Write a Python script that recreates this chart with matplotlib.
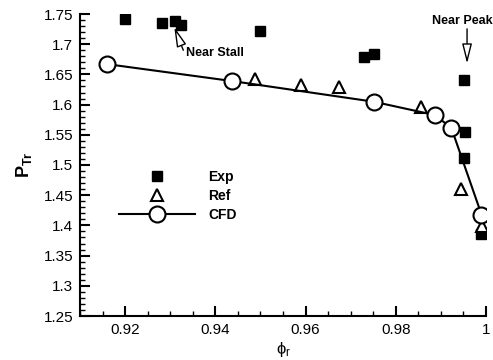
import matplotlib
matplotlib.use('Agg')
import matplotlib.pyplot as plt
from matplotlib.ticker import MultipleLocator

plt.rcParams['font.family'] = ['Liberation Sans', 'DejaVu Sans']
plt.rcParams['mathtext.fontset'] = 'custom'
plt.rcParams['mathtext.rm'] = 'Liberation Sans'
plt.rcParams['mathtext.it'] = 'Liberation Sans'
plt.rcParams['mathtext.bf'] = 'Liberation Sans:bold'

# data
exp_phi = [0.9200, 0.9282, 0.9310, 0.9324, 0.9500, 0.9729, 0.9751, 0.9951, 0.9954, 0.9951, 0.9990]
exp_ptr = [1.7412, 1.7346, 1.7390, 1.7318, 1.7224, 1.6793, 1.6838, 1.6407, 1.5541, 1.5110, 1.3860]

ref_phi = [0.9487, 0.9589, 0.9675, 0.9856, 0.9944, 0.9991]
ref_ptr = [1.6420, 1.6325, 1.6286, 1.5955, 1.4603, 1.3990]

cfd_phi = [0.9160, 0.9437, 0.9751, 0.9886, 0.9923, 0.9990]
cfd_ptr = [1.6670, 1.6390, 1.6048, 1.5828, 1.5618, 1.4180]

fig = plt.figure(figsize=(4.93, 3.6), dpi=100)
ax = fig.add_axes([80/493, 44/360, 406/493, 302/360])

ax.plot(exp_phi, exp_ptr, ls='none', marker='s', ms=7.2, mfc='black', mec='black', label='Exp', zorder=3)
ax.plot(ref_phi, ref_ptr, ls='none', marker='^', ms=9, mfc='white', mec='black', mew=1.5, label='Ref', zorder=4)
ax.plot(cfd_phi, cfd_ptr, c='black', lw=1.5, marker='o', ms=11.5, mfc='white', mec='black', mew=1.5, label='CFD', zorder=5)

ax.set_xlim(0.91, 1.0)
ax.set_ylim(1.25, 1.75)
ax.xaxis.set_minor_locator(MultipleLocator(0.005))
ax.yaxis.set_minor_locator(MultipleLocator(0.01))
ax.set_xticks([0.92, 0.94, 0.96, 0.98, 1.0])
ax.set_xticklabels(['0.92', '0.94', '0.96', '0.98', '1'])
ax.set_yticks([1.25, 1.3, 1.35, 1.4, 1.45, 1.5, 1.55, 1.6, 1.65, 1.7, 1.75])
ax.set_yticklabels(['1.25', '1.3', '1.35', '1.4', '1.45', '1.5', '1.55', '1.6', '1.65', '1.7', '1.75'])

ax.spines['top'].set_color('none')
ax.spines['right'].set_color('none')
ax.spines['left'].set_linewidth(1.5)
ax.spines['bottom'].set_linewidth(1.5)
ax.tick_params(which='major', direction='in', length=7, width=1.5, labelsize=11, pad=5)
ax.tick_params(which='minor', direction='in', length=3.5, width=1)

ax.set_xlabel(r'$\phi_\mathrm{r}$', fontsize=12, labelpad=2)
ax.set_ylabel(r'$\mathbf{P_{Tr}}$', fontsize=13, labelpad=7)

arrow = dict(arrowstyle='-|>,head_length=1.2,head_width=0.3', fc='white', ec='black', lw=1, shrinkA=0, shrinkB=0)
ax.annotate('', xy=(0.9309, 1.7282), xytext=(0.9329, 1.6900), arrowprops=arrow)
ax.text(0.9336, 1.6855, 'Near Stall', fontsize=9, fontweight='bold', ha='left', va='center')
ax.annotate('', xy=(0.9958, 1.6680), xytext=(0.9958, 1.7254), arrowprops=arrow)
ax.text(0.9947, 1.7380, 'Near Peak', fontsize=9, fontweight='bold', ha='center', va='center')

ax.legend(loc='upper left', bbox_to_anchor=(119/493, 1 - 170/360), bbox_transform=fig.transFigure,
          frameon=False, borderpad=0, borderaxespad=0, handlelength=5.5, handletextpad=0.9,
          labelspacing=0.35, prop={'weight': 'bold', 'size': 10})

fig.savefig('out.png', dpi=100)
